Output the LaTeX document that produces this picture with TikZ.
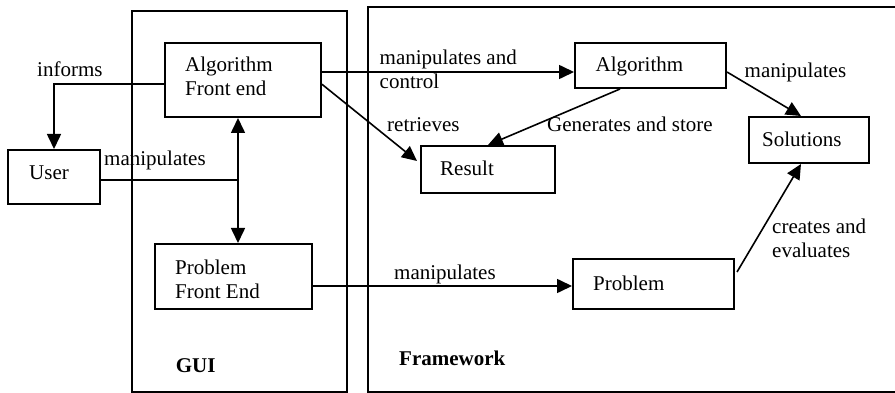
\documentclass[tikz,border=0pt]{standalone}
\usepackage{fontspec}
\setmainfont{Liberation Serif}
\usetikzlibrary{arrows.meta}
\newcommand\twolines[2]{\begin{tabular}[t]{@{}l@{}}#1\\#2\end{tabular}}
\begin{document}
\begin{tikzpicture}[x=1pt,y=-1pt,
  mytip/.tip={Triangle[length=15pt,width=14pt]},
  box/.style={draw, line width=2pt, inner sep=0pt, anchor=north west},
  frame/.style={draw, line width=2pt},
  txt/.style={inner sep=0pt, anchor=base west, font=\fontsize{21}{24}\selectfont},
  conn/.style={line width=1.6pt},
  arr/.style={conn, -mytip},
  ]
\useasboundingbox (0,0) rectangle (895,393);

% containers
\draw[frame] (131.5,11.5) rectangle (347,392);
\draw[frame] (910,7.3) -- (367.5,7.3) -- (367.5,392) -- (910,392);

% boxes
\node[box, minimum width=156pt, minimum height=74pt] (afe) at (164,42) {};
\node[box, minimum width=92pt,  minimum height=54pt] (user) at (7,149) {};
\node[box, minimum width=157pt, minimum height=65pt] (pfe) at (154,243) {};
\node[box, minimum width=151pt, minimum height=45pt] (alg) at (574,42) {};
\node[box, minimum width=134pt, minimum height=47pt] (res) at (420,145) {};
\node[box, minimum width=120pt, minimum height=46pt] (sol) at (748,116) {};
\node[box, minimum width=161pt, minimum height=50pt] (prob) at (572,258) {};

% box texts
\node[txt] (afeT) at (185,72) {\twolines{Algorithm}{Front end}};
\node[txt] (userT) at (29,180) {User};
\node[txt] (pfeT) at (175,274) {\twolines{Problem}{Front End}};
\node[txt] (algT) at (595.5,72) {Algorithm};
\node[txt] (resT) at (440,176) {Result};
\node[txt] (solT) at (762,146.7) {Solutions};
\node[txt] (probT) at (593,290) {Problem};
\node[txt] (gui) at (175.7,372.7) {\bfseries GUI};
\node[txt] (fw) at (399,365.7) {\bfseries Framework};

% connector labels
\node[txt] (l1) at (37,77) {informs};
\node[txt] (l2) at (104,165.7) {manipulates};
\node[txt] (l3) at (379.5,65) {\twolines{manipulates and}{control}};
\node[txt] (l4) at (387,131.7) {retrieves};
\node[txt] (l5) at (547,131.7) {Generates and store};
\node[txt] (l6) at (744.5,77.3) {manipulates};
\node[txt] (l7) at (772,233.3) {\twolines{creates and}{evaluates}};
\node[txt] (l8) at (394,279.3) {manipulates};

% helper coordinates
\coordinate (j) at (238,180);
\coordinate (h1) at (0,72);
\coordinate (h2) at (0,286);

% connectors
\draw[arr] ([yshift=-4pt]afe.west) -| (user.north);
\draw[conn] (user.east |- j) -- (j);
\draw[conn, mytip-mytip] (afe.south -| j) -- (pfe.north -| j);
\draw[arr] (afe.east |- h1) -- (alg.west |- h1);
\draw[arr] ([yshift=-4.3pt]afe.east) -- ([xshift=-3pt,yshift=8.5pt]res.west);
\draw[arr] ([xshift=-30.5pt]alg.south) -- (res.north);
\draw[arr] ([yshift=-6.5pt]alg.east) -- ([xshift=-8pt]sol.north);
\draw[arr] (pfe.east |- h2) -- (prob.west |- h2);
\draw[arr] ([xshift=2pt,yshift=-14pt]prob.north east) -- ([xshift=-8pt]sol.south);
\end{tikzpicture}
\end{document}
